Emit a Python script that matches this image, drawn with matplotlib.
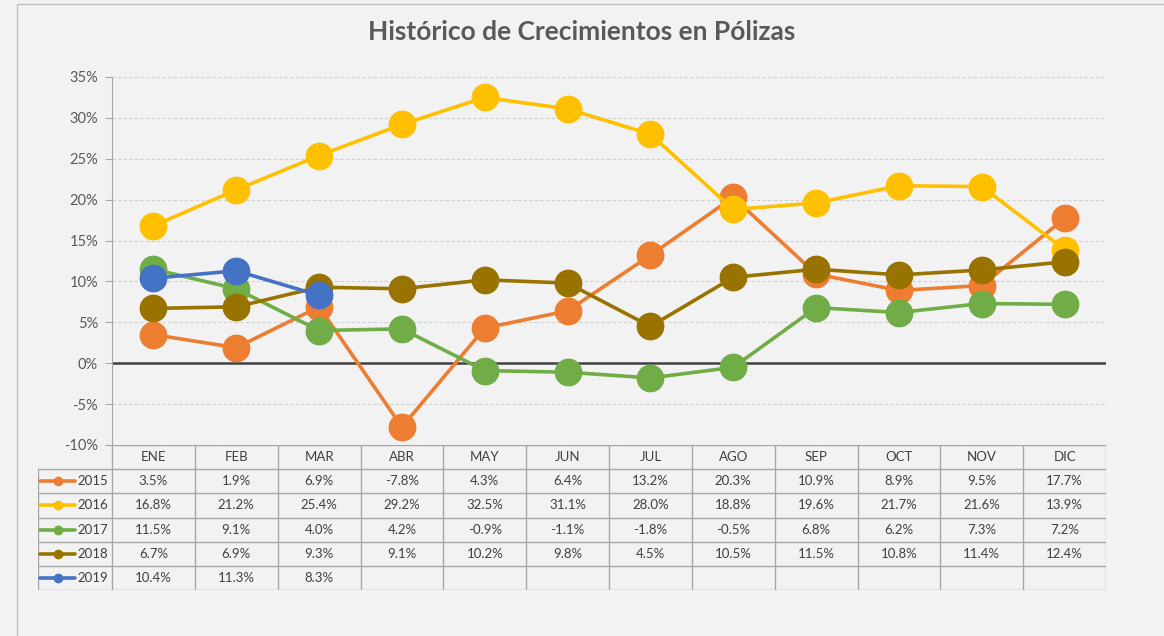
import matplotlib
matplotlib.use('Agg')
import matplotlib.pyplot as plt
from matplotlib.patches import Rectangle
from matplotlib.ticker import PercentFormatter

meses = ['ENE', 'FEB', 'MAR', 'ABR', 'MAY', 'JUN', 'JUL', 'AGO', 'SEP', 'OCT', 'NOV', 'DIC']
anios = ['2015', '2016', '2017', '2018', '2019']
v2015 = [3.5, 1.9, 6.9, -7.8, 4.3, 6.4, 13.2, 20.3, 10.9, 8.9, 9.5, 17.7]
v2016 = [16.8, 21.2, 25.4, 29.2, 32.5, 31.1, 28.0, 18.8, 19.6, 21.7, 21.6, 13.9]
v2017 = [11.5, 9.1, 4.0, 4.2, -0.9, -1.1, -1.8, -0.5, 6.8, 6.2, 7.3, 7.2]
v2018 = [6.7, 6.9, 9.3, 9.1, 10.2, 9.8, 4.5, 10.5, 11.5, 10.8, 11.4, 12.4]
v2019 = [10.4, 11.3, 8.3]
colores = ['#ED7D31', '#FFC000', '#70AD47', '#997300', '#4472C4']
series = [v2015, v2016, v2017, v2018, v2019]

W, H = 1164, 636
fuente = 'Lato'
gris = '#595959'
plt.rcParams['font.family'] = [fuente, 'DejaVu Sans']
plt.rcParams['axes.unicode_minus'] = False

fig = plt.figure(figsize=(W / 100, H / 100), dpi=100)
fig.patch.set_facecolor('#F2F2F2')
fig.patches.append(Rectangle((17 / W, -0.5), 2, 1.5 - 4 / H, transform=fig.transFigure,
                             facecolor='none', edgecolor='#BFBFBF', lw=1))

def caja(x0, y0, x1, y1):
    return [x0 / W, 1 - y1 / H, (x1 - x0) / W, (y1 - y0) / H]

ax = fig.add_axes(caja(112, 77, 1106, 445))
ax.set_facecolor('none')
x = list(range(len(meses)))
for anio, vals, c in zip(anios, series, colores):
    ax.plot(x[:len(vals)], [v / 100 for v in vals], color=c, lw=2.6, marker='o',
            markersize=19, zorder=3, label=anio)

ax.set_xlim(-0.5, 11.5)
ax.set_ylim(-0.10, 0.35)
ax.set_yticks([i / 100 for i in range(-10, 36, 5)])
ax.yaxis.set_major_formatter(PercentFormatter(1.0, decimals=0))
ax.grid(axis='y', color='#D0D0D0', ls=(0, (3, 2)), lw=0.8)
ax.axhline(0, color='#404040', lw=1.8, zorder=2)
ax.set_xticks([])
for s in ['top', 'right', 'bottom']:
    ax.spines[s].set_visible(False)
ax.spines['left'].set_color('#A6A6A6')
ax.tick_params(axis='y', colors='#A6A6A6', labelcolor=gris, labelsize=10.5, length=5, pad=5)

fig.text(0.5, 1 - 32 / H, 'Histórico de Crecimientos en Pólizas', ha='center', va='center',
         fontsize=19, fontweight='bold', color=gris)

# tabla de datos
tx = fig.add_axes(caja(38, 445, 1106, 590))
tx.set_facecolor('none')
tx.axis('off')
izq = -0.5 - (112 - 38) / ((1106 - 112) / 12)
tx.set_xlim(izq, 11.5)
tx.set_ylim(6, 0)
linea = dict(color='#A6A6A6', lw=1)
tx.plot([-0.5, 11.5], [0, 0], **linea)
for r in range(1, 7):
    tx.plot([izq, 11.5], [r, r], **linea)
for k in range(13):
    tx.plot([k - 0.5, k - 0.5], [0, 6], **linea)
tx.plot([izq, izq], [1, 6], **linea)
for k, m in enumerate(meses):
    tx.text(k, 0.5, m, ha='center', va='center', fontsize=9.5, color='#404040')
for r, (anio, vals, c) in enumerate(zip(anios, series, colores)):
    y = r + 1.5
    tx.plot([izq + 0.03, izq + 0.45], [y, y], color=c, lw=2.6, solid_capstyle='round')
    tx.plot([izq + 0.24], [y], marker='o', color=c, markersize=6)
    tx.text(-0.55, y, anio, ha='right', va='center', fontsize=9.5, color='#404040')
    for k, v in enumerate(vals):
        tx.text(k, y, f'{v:.1f}%', ha='center', va='center', fontsize=9.5, color='#404040')

fig.savefig('out.png', dpi=100, facecolor=fig.get_facecolor())
